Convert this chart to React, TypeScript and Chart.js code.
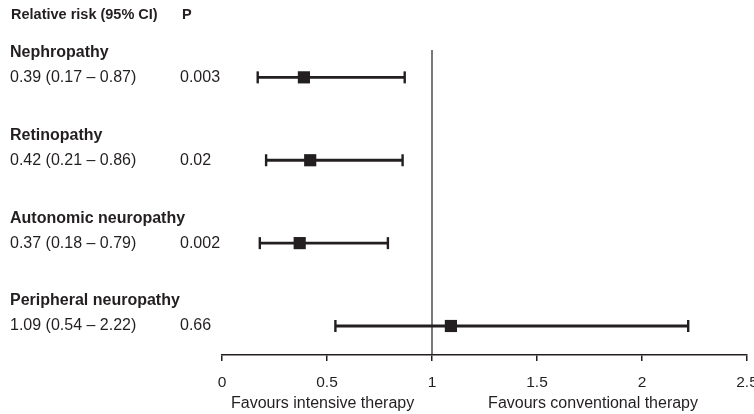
import React, { useEffect, useRef } from "react";
import { Chart, registerables } from "chart.js";

Chart.register(...registerables);

const categories = ["Nephropathy", "Retinopathy", "Autonomic neuropathy", "Peripheral neuropathy"];
const relativeRisk = [0.39, 0.42, 0.37, 1.09];
const ciLower = [0.17, 0.21, 0.18, 0.54];
const ciUpper = [0.87, 0.86, 0.79, 2.22];
const ciLabels = ["0.39 (0.17 \u2013 0.87)", "0.42 (0.21 \u2013 0.86)", "0.37 (0.18 \u2013 0.79)", "1.09 (0.54 \u2013 2.22)"];
const pValues = ["0.003", "0.02", "0.002", "0.66"];
const xTicks = [0, 0.5, 1, 1.5, 2, 2.5];
const headerLabels = ["Relative risk (95% CI)", "P"];
const axisLabels = ["Favours intensive therapy", "Favours conventional therapy"];

const INK = "#231f20";
const FONT = "'Liberation Sans', Arial, Helvetica, sans-serif";

export default function App() {
  const ref = useRef<HTMLCanvasElement | null>(null);

  useEffect(() => {
    const canvas = ref.current;
    if (!canvas) return;
    const n = categories.length;
    const rowOf = (i: number) => n - i;

    const datasets: any[] = [];
    // reference line at RR = 1
    datasets.push({
      type: "line",
      data: [
        { x: 1, y: 0.65 },
        { x: 1, y: 4.33 },
      ],
      borderColor: INK,
      borderWidth: 1.2,
      pointRadius: 0,
      order: 3,
    });
    categories.forEach((_, i) => {
      datasets.push({
        type: "line",
        data: [
          { x: ciLower[i], y: rowOf(i) },
          { x: ciUpper[i], y: rowOf(i) },
        ],
        borderColor: INK,
        borderWidth: 2.8,
        pointStyle: "line",
        rotation: 90,
        pointRadius: 6,
        pointBorderWidth: 2.4,
        pointBorderColor: INK,
        order: 2,
      });
    });
    datasets.push({
      type: "scatter",
      data: relativeRisk.map((v, i) => ({ x: v, y: rowOf(i) })),
      pointStyle: "rect",
      pointRadius: 8.6,
      backgroundColor: INK,
      borderColor: INK,
      borderWidth: 0,
      order: 1,
    });

    const textPlugin = {
      id: "forestText",
      afterDraw(chart: any) {
        const ctx = chart.ctx;
        const ys = chart.scales.y;
        const xs = chart.scales.x;
        ctx.save();
        ctx.fillStyle = INK;
        ctx.textBaseline = "middle";
        ctx.textAlign = "left";
        ctx.font = `bold 14.5px ${FONT}`;
        ctx.fillText(headerLabels[0], 11, 15);
        ctx.fillText(headerLabels[1], 182, 15);
        categories.forEach((c, i) => {
          const y = ys.getPixelForValue(rowOf(i));
          ctx.font = `bold 16px ${FONT}`;
          ctx.fillText(c, 10, y - 25);
          ctx.font = `16px ${FONT}`;
          ctx.fillText(ciLabels[i], 10, y);
          ctx.fillText(pValues[i], 180, y);
        });
        ctx.font = `16px ${FONT}`;
        ctx.textAlign = "center";
        ctx.fillText(axisLabels[0], xs.getPixelForValue(0.479), 404);
        ctx.fillText(axisLabels[1], xs.getPixelForValue(1.767), 404);
        ctx.restore();
      },
    };

    const chart = new Chart(canvas, {
      type: "scatter",
      data: { datasets },
      options: {
        responsive: false,
        animation: false,
        devicePixelRatio: 1,
        layout: { padding: { left: 222, right: 33, top: 50, bottom: 0 } },
        plugins: { legend: { display: false }, tooltip: { enabled: false } },
        scales: {
          x: {
            type: "linear",
            min: 0,
            max: 2.5,
            afterBuildTicks: (s: any) => {
              s.ticks = xTicks.map((v) => ({ value: v }));
            },
            afterFit: (s: any) => {
              s.height = 59;
            },
            ticks: {
              color: INK,
              font: { family: FONT, size: 15.5 },
              padding: 12,
              maxRotation: 0,
              callback: (v: any) => String(v),
            },
            grid: {
              display: true,
              drawOnChartArea: false,
              drawTicks: true,
              tickLength: 6,
              color: INK,
              lineWidth: 1.5,
            },
            border: { display: true, color: INK, width: 1.5 },
          },
          y: {
            type: "linear",
            display: false,
            min: 0.65,
            max: 4.33,
          },
        },
      },
      plugins: [textPlugin],
    });
    return () => chart.destroy();
  }, []);

  return (
    <div style={{ position: "absolute", left: 0, top: 0, width: 754, height: 414, overflow: "hidden", background: "#fff" }}>
      <canvas ref={ref} width={780} height={414} style={{ display: "block" }} />
    </div>
  );
}
